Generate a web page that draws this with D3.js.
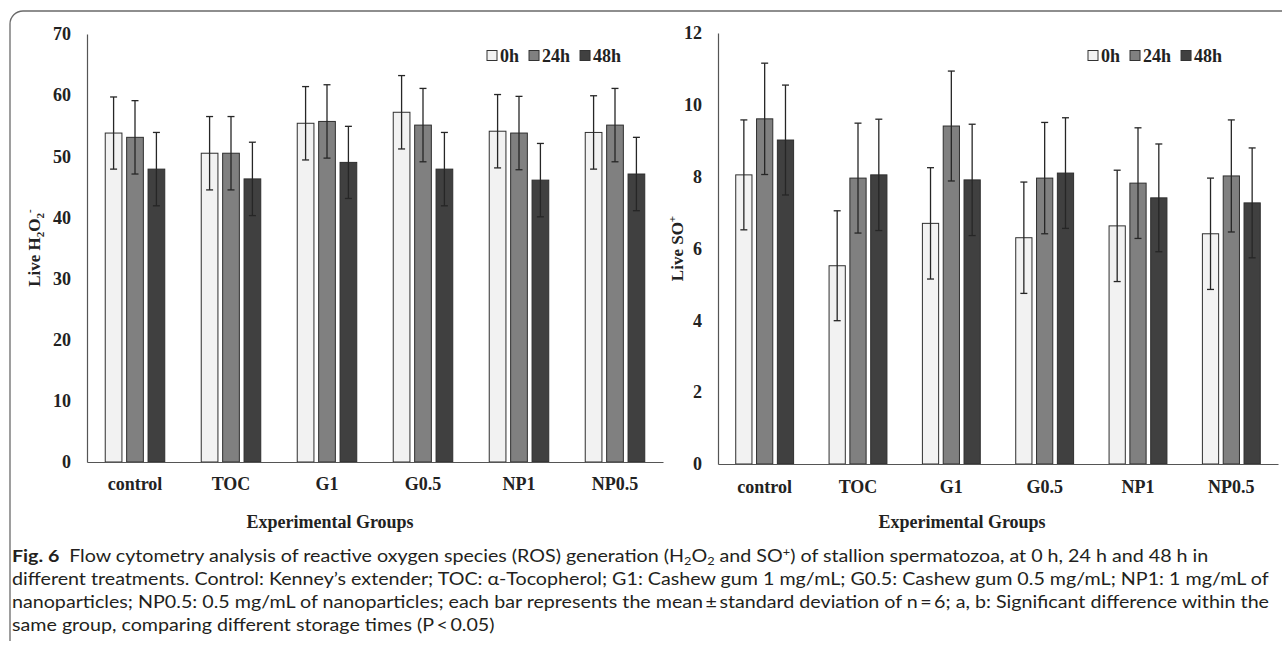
<!DOCTYPE html>
<html lang="en">
<head>
<meta charset="UTF-8">
<title>Fig. 6 - ROS generation</title>
<style>
    body { margin: 0; background: #fff; }
    svg text { font-family: "Liberation Serif", "Times New Roman", serif; font-weight: bold; fill: #222; }
    .tick text { font-size: 18px; }
    .axis path.domain { stroke: #555; stroke-width: 1.2px; }
    .axis line { display: none; }
    .bar { stroke: #2e2e2e; stroke-width: 1px; }
    .err { stroke: #262626; stroke-width: 1.3px; }
    .caption text { font-family: Lato, "Noto Sans", sans-serif; font-weight: normal; font-size: 17px; fill: #231f20; }
    .caption .fig { font-weight: bold; }
</style>
</head>
<body>
<svg id="fig" width="1282" height="649"></svg>
<script src="https://d3js.org/d3.v7.min.js"></script>
<script>
    // --- Data ---
    const groups = ["control", "TOC", "G1", "G0.5", "NP1", "NP0.5"];
    const times = ["0h", "24h", "48h"];
    const timeFill = ["#f2f2f2", "#808080", "#404040"];

    // Live H2O2- (mean, SD)
    const h2o2Mean0  = [53.8, 50.5, 55.4, 57.2, 54.1, 53.9];
    const h2o2Mean24 = [53.1, 50.5, 55.7, 55.1, 53.8, 55.1];
    const h2o2Mean48 = [47.9, 46.3, 49.0, 47.9, 46.1, 47.1];
    const h2o2Sd0  = [5.9, 6.0, 6.0, 6.0, 6.0, 6.0];
    const h2o2Sd24 = [6.0, 6.0, 6.0, 6.0, 6.0, 6.0];
    const h2o2Sd48 = [6.0, 6.0, 5.9, 6.0, 6.0, 6.0];
    const h2o2Ticks = [0, 10, 20, 30, 40, 50, 60, 70];

    // Live SO+ (mean, SD)
    const soMean0  = [8.05, 5.52, 6.70, 6.30, 6.63, 6.41];
    const soMean24 = [9.61, 7.96, 9.41, 7.96, 7.82, 8.02];
    const soMean48 = [9.02, 8.05, 7.91, 8.10, 7.41, 7.27];
    const soSd0  = [1.53, 1.53, 1.55, 1.55, 1.55, 1.55];
    const soSd24 = [1.55, 1.53, 1.53, 1.55, 1.54, 1.56];
    const soSd48 = [1.53, 1.55, 1.55, 1.54, 1.50, 1.53];
    const soTicks = [0, 2, 4, 6, 8, 10, 12];

    const svg = d3.select("#fig");

    // outer frame: top and left rule with rounded corner
    svg.append("path")
        .attr("d", "M10,641 V24 A13,13 0 0 1 23,11 H1282")
        .attr("fill", "none")
        .attr("stroke", "#6a6a6a")
        .attr("stroke-width", 1.3);

    function drawChart(cfg) {
        const g = svg.append("g");
        const rows = [];
        groups.forEach((grp, i) => {
            times.forEach((t, j) => {
                rows.push({ group: grp, time: t, ti: j, mean: cfg.means[j][i], sd: cfg.sds[j][i] });
            });
        });

        const x0 = d3.scaleBand().domain(groups).range([cfg.left, cfg.right]).padding(0);
        const half = x0.bandwidth() * 0.31;
        const x1 = d3.scaleBand().domain(times).range([-half, half]).paddingInner(0.22);
        const y = d3.scaleLinear().domain([0, cfg.max]).range([cfg.bottom, cfg.top]);
        const cx = d => x0(d.group) + x0.bandwidth() / 2;

        // bars
        g.selectAll(".bar").data(rows).enter().append("rect")
            .attr("class", "bar")
            .attr("x", d => cx(d) + x1(d.time))
            .attr("width", x1.bandwidth())
            .attr("y", d => y(d.mean))
            .attr("height", d => y(0) - y(d.mean))
            .attr("fill", d => timeFill[d.ti]);

        // error bars
        const cap = 3.5;
        const eb = g.selectAll(".ebar").data(rows).enter().append("g")
            .attr("transform", d => `translate(${cx(d) + x1(d.time) + x1.bandwidth() / 2},0)`);
        eb.append("line").attr("class", "err")
            .attr("x1", 0).attr("x2", 0)
            .attr("y1", d => y(d.mean + d.sd)).attr("y2", d => y(d.mean - d.sd));
        eb.append("line").attr("class", "err")
            .attr("x1", -cap).attr("x2", cap)
            .attr("y1", d => y(d.mean + d.sd)).attr("y2", d => y(d.mean + d.sd));
        eb.append("line").attr("class", "err")
            .attr("x1", -cap).attr("x2", cap)
            .attr("y1", d => y(d.mean - d.sd)).attr("y2", d => y(d.mean - d.sd));

        // axes
        g.append("g").attr("class", "axis")
            .attr("transform", `translate(${cfg.left},0)`)
            .call(d3.axisLeft(y).tickValues(cfg.ticks).tickSize(0).tickSizeOuter(0).tickPadding(16))
            .call(a => a.selectAll("text").attr("font-family", null).attr("font-size", null));
        g.append("g").attr("class", "axis")
            .attr("transform", `translate(0,${cfg.bottom})`)
            .call(d3.axisBottom(x0).tickSize(0).tickSizeOuter(0).tickPadding(cfg.xPad))
            .call(a => a.selectAll("text").attr("font-family", null).attr("font-size", null));

        // y label
        const yl = g.append("text")
            .attr("transform", `translate(${cfg.yLabelX},${(cfg.top + cfg.bottom) / 2}) rotate(-90)`)
            .attr("text-anchor", "middle")
            .attr("font-size", 17);
        cfg.yLabel(yl);

        // x title
        g.append("text")
            .attr("x", cfg.titleX).attr("y", 528)
            .attr("text-anchor", "middle")
            .attr("font-size", 18)
            .text("Experimental Groups");

        // legend
        const lg = g.append("g").attr("transform", `translate(${cfg.legendX},0)`);
        let off = 0;
        times.forEach((t, j) => {
            lg.append("rect")
                .attr("x", off).attr("y", 50.5)
                .attr("width", 10).attr("height", 10)
                .attr("fill", timeFill[j]).attr("stroke", "#333").attr("stroke-width", 1);
            const tx = lg.append("text")
                .attr("x", off + 13).attr("y", 61.5)
                .attr("font-size", 18)
                .text(t);
            off += 13 + tx.node().getComputedTextLength() + 10;
        });
    }

    drawChart({
        left: 87, right: 663, top: 34, bottom: 462, max: 70,
        ticks: h2o2Ticks, xPad: 15, yLabelX: 40, titleX: 330, legendX: 487,
        means: [h2o2Mean0, h2o2Mean24, h2o2Mean48],
        sds: [h2o2Sd0, h2o2Sd24, h2o2Sd48],
        yLabel: t => {
            t.append("tspan").text("Live H");
            t.append("tspan").attr("font-size", 11).attr("dy", 4).text("2");
            t.append("tspan").attr("dy", -4).text("O");
            t.append("tspan").attr("font-size", 11).attr("dy", 4).text("2");
            t.append("tspan").attr("font-size", 11).attr("dy", -11).text("-");
        }
    });

    drawChart({
        left: 718, right: 1278, top: 33, bottom: 464, max: 12,
        ticks: soTicks, xPad: 16, yLabelX: 683, titleX: 962, legendX: 1088,
        means: [soMean0, soMean24, soMean48],
        sds: [soSd0, soSd24, soSd48],
        yLabel: t => {
            t.append("tspan").text("Live SO");
            t.append("tspan").attr("font-size", 11).attr("dy", -7).text("+");
        }
    });

    // caption
    const cap = svg.append("g").attr("class", "caption");
    const lines = [
        t => {
            t.append("tspan").attr("class", "fig").text("Fig. 6");
            t.append("tspan").text("\u2002Flow cytometry analysis of reactive oxygen species (ROS) generation (H");
            t.append("tspan").attr("font-size", 11).attr("dy", 3).text("2");
            t.append("tspan").attr("dy", -3).text("O");
            t.append("tspan").attr("font-size", 11).attr("dy", 3).text("2");
            t.append("tspan").attr("dy", -3).text(" and SO");
            t.append("tspan").attr("font-size", 11).attr("dy", -6).text("+");
            t.append("tspan").attr("dy", 6).text(") of stallion spermatozoa, at 0 h, 24 h and 48 h in");
        },
        t => t.text("different treatments. Control: Kenney\u2019s extender; TOC: \u03b1-Tocopherol; G1: Cashew gum 1 mg/mL; G0.5: Cashew gum 0.5 mg/mL; NP1: 1 mg/mL of"),
        t => t.text("nanoparticles; NP0.5: 0.5 mg/mL of nanoparticles; each bar represents the mean\u2009\u00b1\u2009standard deviation of n\u2009=\u20096; a, b: Significant difference within the"),
        t => t.text("same group, comparing different storage times (P\u2009<\u20090.05)")
    ];
    const capNodes = lines.map((fn, i) => {
        const t = cap.append("text").attr("x", 12).attr("y", 562 + i * 23);
        fn(t);
        return t;
    });
    // the printed caption face is a little wider than Lato: stretch every line by the same factor
    const w3 = capNodes[2].node().getComputedTextLength();
    const stretch = (1269 - 12) / w3;
    capNodes.forEach(t => {
        const w = t.node().getComputedTextLength();
        t.attr("textLength", w * stretch).attr("lengthAdjust", "spacingAndGlyphs");
    });
</script>
</body>
</html>
